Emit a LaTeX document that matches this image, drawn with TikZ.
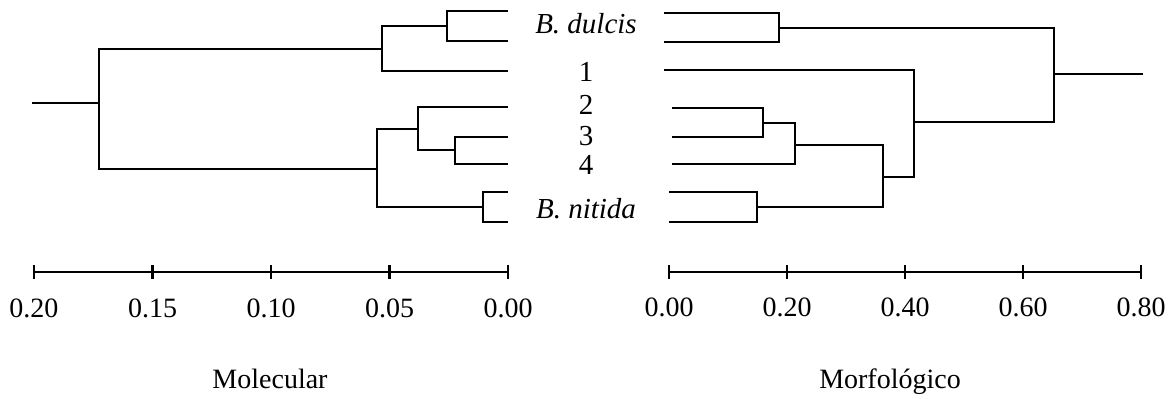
\documentclass[tikz,border=0pt]{standalone}
\usepackage{fontspec}
\setmainfont{Liberation Serif}
\usetikzlibrary{positioning}

\begin{document}
\begin{tikzpicture}[x=0.5pt,y=-0.5pt,line width=1pt,
      br/.style={line width=1.1pt,line cap=rect},
      thin br/.style={line width=0.6pt},
      tk/.style={line width=1.1pt},
      lab/.style={font=\fontsize{14.5}{17}\selectfont,inner sep=0pt},
      num/.style={font=\fontsize{14}{16}\selectfont,inner sep=0pt,anchor=base}]
    \useasboundingbox (0,0) rectangle (1170,398);

    % molecular tree (leaves on the right)
    \coordinate (ldA) at (507,11);  \coordinate (ldB) at (507,41);
    \coordinate (l1) at (507,71);   \coordinate (l2) at (507,107);
    \coordinate (l3) at (507,137);  \coordinate (l4) at (507,164);
    \coordinate (lnA) at (507,192); \coordinate (lnB) at (507,222);
    \coordinate (ma) at (447,26);   \coordinate (mb) at (382,49);
    \coordinate (mc) at (455,150);  \coordinate (md) at (418,129);
    \coordinate (me) at (483,207);  \coordinate (mf) at (377,169);
    \coordinate (mr) at (99,103);   \coordinate (mroot) at (33,103);
    \draw[br] (ma) |- (ldA); \draw[br] (ma) |- (ldB);
    \draw[br] (mb) |- (ma);  \draw[br] (mb) |- (l1);
    \draw[br] (mc) |- (l3);  \draw[br] (mc) |- (l4);
    \draw[br] (md) |- (l2);  \draw[br] (md) |- (mc);
    \draw[br] (me) |- (lnA); \draw[br] (me) |- (lnB);
    \draw[br] (mf) |- (md);  \draw[br] (mf) |- (me);
    \draw[thin br] (mr) |- (mb); \draw[br] (mr) |- (mf);
    \draw[br] (mroot) -- (mr);

    % morphological tree (leaves on the left)
    \coordinate (rdA) at (665,13);  \coordinate (rdB) at (665,42);
    \coordinate (r1) at (665,70);   \coordinate (r2) at (673,108);
    \coordinate (r3) at (673,137);  \coordinate (r4) at (673,164);
    \coordinate (rnA) at (670,192); \coordinate (rnB) at (670,222);
    \coordinate (na) at (779,28);   \coordinate (nb) at (763,123);
    \coordinate (nc) at (795,145);  \coordinate (nd) at (757,207);
    \coordinate (ne) at (883,177);  \coordinate (nf) at (914,122);
    \coordinate (ng) at (1054,74);  \coordinate (nroot) at (1142,74);
    \draw[br] (na) |- (rdA); \draw[br] (na) |- (rdB);
    \draw[br] (nb) |- (r2);  \draw[br] (nb) |- (r3);
    \draw[br] (nc) |- (nb);  \draw[br] (nc) |- (r4);
    \draw[br] (nd) |- (rnA); \draw[br] (nd) |- (rnB);
    \draw[br] (ne) |- (nc);  \draw[br] (ne) |- (nd);
    \draw[br] (nf) |- (r1);  \draw[br] (nf) |- (ne);
    \draw[br] (ng) |- (na);  \draw[br] (ng) |- (nf);
    \draw[br] (ng) -- (nroot);

    % taxa between the two trees
    \node[lab] (tdul) at (586,24) {\itshape B. dulcis};
    \node[lab] (t1) at (586,72) {1};
    \node[lab] (t2) at (586,105) {2};
    \node[lab] (t3) at (586,136) {3};
    \node[lab] (t4) at (586,165) {4};
    \node[lab] (tnit) at (586,209) {\itshape B. nitida};

    % scales
    \coordinate (ma0) at (34,272);  \coordinate (ma1) at (508,272);
    \coordinate (na0) at (669,272); \coordinate (na1) at (1141,272);
    \draw[tk] (ma0) -- (ma1);
    \draw[tk] (na0) -- (na1);
    \foreach \i/\t in {0/0.20,1/0.15,2/0.10,3/0.05,4/0.00}{
      \draw[tk] ({34+118.5*\i},265) -- ++(0,14);
      \node[num] (ml\i) at ({34+118.5*\i},317) {\t};}
    \foreach \i/\t in {0/0.00,1/0.20,2/0.40,3/0.60,4/0.80}{
      \draw[tk] ({669+118*\i},265) -- ++(0,14);
      \node[num] (nl\i) at ({669+118*\i},316) {\t};}
    \node[num] (mtitle) at (270,388) {Molecular};
    \node[num] (ntitle) at (890,388) {Morfológico};
  \end{tikzpicture}
\end{document}
